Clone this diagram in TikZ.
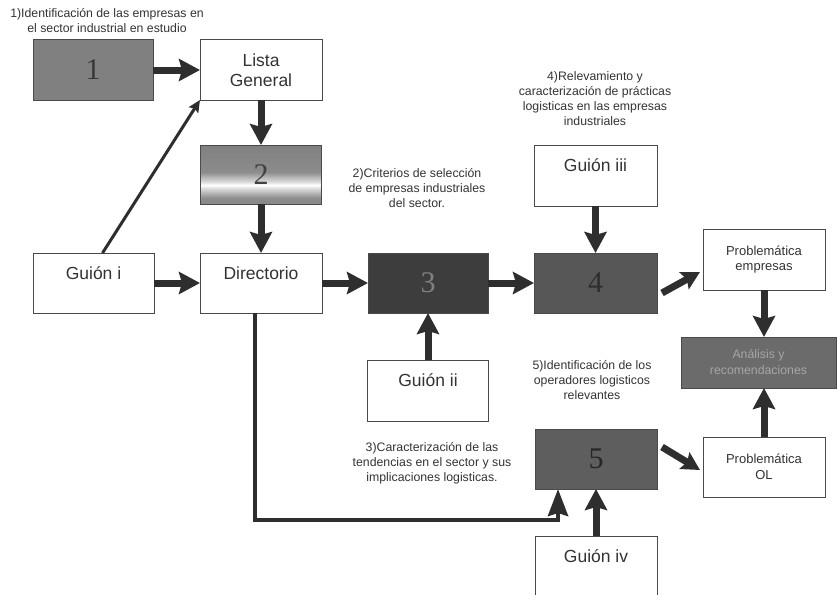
\documentclass[tikz,border=0pt]{standalone}
\usepackage{fontspec}
\setmainfont{Liberation Sans}
\newfontfamily\numfont{Liberation Serif}
\usetikzlibrary{arrows.meta}
\definecolor{arrowgray}{HTML}{2E2E2E}
\definecolor{edgegray}{HTML}{4A4A4A}
\definecolor{textgray}{HTML}{333333}
\pgfdeclareverticalshading{cylband}{100bp}{color(0bp)=(black!55); color(30bp)=(black!45); color(38bp)=(black!15); color(41bp)=(white); color(44bp)=(black!15); color(52bp)=(black!45); color(100bp)=(black!55)}
\tikzset{
	box/.style={draw=edgegray, line width=1pt, inner sep=0pt, outer sep=0pt, align=center,
			text=textgray},
	plain box/.style={box, fill=white, font=\fontsize{17.5}{20}\selectfont},
	guion box/.style={plain box, text depth=20pt},
	small box/.style={box, fill=white, font=\fontsize{13}{15.5}\selectfont},
	step box/.style={box, font=\numfont\fontsize{30}{32}\selectfont},
	note/.style={align=center, text=textgray, font=\fontsize{12.3}{15}\selectfont},
	fat arrow/.style={draw=arrowgray, line width=7pt, -{Stealth[length=21pt, width=22pt, inset=3pt]}},
	mid arrow/.style={draw=arrowgray, line width=7pt, -{Stealth[length=18pt, width=19pt, inset=3pt]}},
	line arrow/.style={draw=arrowgray, line width=4.5pt, -{Stealth[length=27pt, width=20pt, inset=3pt]}},
	thin arrow/.style={draw=arrowgray, line width=3pt, -{Stealth[length=12pt, width=11pt, inset=2pt]}},
}

\begin{document}
\begin{tikzpicture}[x=1pt, y=-1pt]
	\useasboundingbox (0,0) rectangle (837,594);

	\node[step box, fill=black!50, text=black!78, minimum width=120pt, minimum height=60pt] (b1) at (93,70) {1};
	\node[plain box, minimum width=122pt, minimum height=60pt] (lista) at (261,70) {Lista\\General};
	\node[step box, shading=cylband, text=black!75, minimum width=121pt, minimum height=59pt] (b2) at (261,174.5) {2};
	\node[guion box, minimum width=121pt, minimum height=60pt] (gi) at (93.5,283) {Guión i};
	\node[guion box, minimum width=122pt, minimum height=60pt] (dir) at (261,283) {Directorio};
	\node[step box, fill=black!76, text=black!50, minimum width=120pt, minimum height=60pt] (b3) at (428,283) {3};
	\node[step box, fill=black!66, text=black!82, minimum width=123pt, minimum height=60pt] (b4) at (595.5,283) {4};
	\node[guion box, minimum width=123pt, minimum height=61pt] (giii) at (595.5,175.5) {Guión iii};
	\node[guion box, minimum width=121pt, minimum height=61pt] (gii) at (428,390.5) {Guión ii};
	\node[step box, fill=black!63, text=black!85, minimum width=122pt, minimum height=60pt] (b5) at (596,459) {5};
	\node[guion box, minimum width=122pt, minimum height=60pt] (giv) at (596,566) {Guión iv};
	\node[small box, minimum width=122pt, minimum height=61pt] (pe) at (764,259.5) {Problemática\\empresas};
	\node[box, fill=black!58, text=black!35, font=\fontsize{12.3}{16}\selectfont,
		minimum width=155pt, minimum height=51pt] (ana) at (758.5,362.5) {Análisis y\\recomendaciones};
	\node[small box, minimum width=122pt, minimum height=60pt] (pol) at (764,467) {Problemática\\OL};

	\node[note] (t1) at (107,21) {1)Identificación de las empresas en\\el sector industrial en estudio};
	\node[note] (t2) at (417,188) {2)Criterios de selección\\de empresas industriales\\del sector.};
	\node[note] (t4) at (595,99) {4)Relevamiento y\\caracterización de prácticas\\logisticas en las empresas\\industriales};
	\node[note] (t5) at (592,380) {5)Identificación de los\\operadores logisticos\\relevantes};
	\node[note] (t3) at (432,463) {3)Caracterización de las\\tendencias en el sector y sus\\implicaciones logisticas.};

	\draw[fat arrow] (b1) -- (lista);
	\draw[fat arrow] (lista) -- (b2);
	\draw[fat arrow] (b2) -- (dir);
	\draw[fat arrow] (gi) -- (dir);
	\draw[fat arrow] (dir) -- (b3);
	\draw[fat arrow] (b3) -- (b4);
	\draw[fat arrow] (giii) -- (b4);
	\draw[fat arrow] (gii) -- (b3);
	\draw[fat arrow] (giv) -- (b5);
	\draw[fat arrow] (pe) -- (pe |- ana.north);
	\draw[fat arrow] (pol) -- (pol |- ana.south);
	\draw[mid arrow] ([shift={(5,10)}]b4.east) -- ([shift={(-3,12.5)}]pe.west);
	\draw[mid arrow] ([shift={(5,-12)}]b5.east) -- ([shift={(-3,3)}]pol.west);
	\draw[line arrow] ([xshift=-6pt]dir.south) -- ++(0,207) -| ([xshift=-38pt]b5.south);
	\draw[thin arrow] ([xshift=9pt]gi.north) -- (lista.south west);
\end{tikzpicture}
\end{document}
